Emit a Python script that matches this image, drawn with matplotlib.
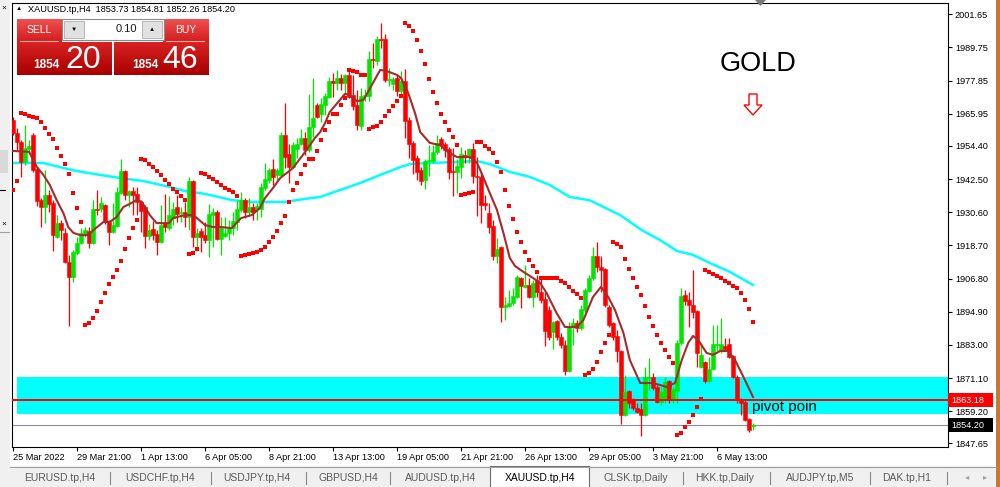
import numpy as np
import matplotlib
matplotlib.use('Agg')
import matplotlib.pyplot as plt
from matplotlib.patches import Rectangle, Polygon
from matplotlib.lines import Line2D
from matplotlib.colors import LinearSegmentedColormap

plt.rcParams['font.family'] = ['Liberation Sans', 'DejaVu Sans']

# XAUUSD.tp H4 bars
opens = [1963.7, 1959.1, 1955.8, 1948.6, 1953.3, 1958.3, 1946.1, 1935.0, 1932.5, 1936.8,
         1933.9, 1921.7, 1926.7, 1923.2, 1912.7, 1907.4, 1916.0, 1919.6, 1922.4, 1923.9,
         1919.6, 1931.8, 1931.8, 1933.2, 1927.1, 1923.5, 1925.7, 1937.5, 1945.4, 1936.8,
         1938.2, 1937.2, 1934.3, 1932.5, 1922.1, 1924.6, 1922.8, 1919.9, 1926.7, 1924.9,
         1928.5, 1932.5, 1930.3, 1930.7, 1928.9, 1941.8, 1921.7, 1923.9, 1922.4, 1920.6,
         1929.6, 1930.7, 1921.0, 1922.1, 1923.2, 1924.9, 1927.1, 1931.4, 1935.0, 1930.7,
         1932.5, 1931.8, 1931.8, 1939.3, 1942.2, 1946.1, 1944.0, 1944.0, 1958.3, 1951.5,
         1946.8, 1953.3, 1955.1, 1957.3, 1953.0, 1961.2, 1969.1, 1965.9, 1969.1, 1972.0,
         1977.7, 1977.0, 1978.8, 1977.0, 1979.9, 1972.7, 1969.1, 1961.6, 1972.3, 1972.3,
         1985.6, 1984.9, 1992.8, 1992.8, 1978.1, 1976.6, 1978.8, 1974.1, 1977.7, 1963.7,
         1955.5, 1950.1, 1945.8, 1942.2, 1949.0, 1949.0, 1952.2, 1956.9, 1955.1, 1953.3,
         1945.4, 1945.1, 1946.8, 1951.2, 1950.4, 1953.3, 1943.6, 1943.3, 1933.9, 1930.3,
         1925.7, 1914.9, 1918.1, 1896.6, 1896.9, 1898.0, 1900.2, 1907.0, 1903.8, 1904.5,
         1900.2, 1906.3, 1902.0, 1899.5, 1895.5, 1887.6, 1891.6, 1885.8, 1882.9, 1873.6,
         1889.4, 1890.8, 1889.0, 1895.5, 1902.3, 1907.0, 1914.9, 1911.0, 1910.2, 1896.6,
         1890.8, 1886.2, 1880.8, 1857.8, 1866.4, 1863.2, 1860.3, 1860.0, 1857.8, 1871.1,
         1871.5, 1867.9, 1862.5, 1863.2, 1870.0, 1863.2, 1866.4, 1883.7, 1900.9, 1899.1,
         1897.3, 1895.2, 1875.0, 1876.8, 1870.0, 1874.3, 1882.9, 1880.8, 1882.6, 1883.3,
         1879.0, 1871.5, 1863.2, 1862.5, 1856.4, 1853.73]
highs = [1964.8, 1960.8, 1956.5, 1961.9, 1956.5, 1959.1, 1946.5, 1935.7, 1945.8, 1938.6,
         1935.0, 1929.6, 1927.8, 1925.0, 1915.3, 1917.0, 1921.7, 1925.0, 1925.3, 1925.3,
         1935.0, 1938.6, 1936.1, 1933.6, 1927.8, 1933.9, 1939.7, 1949.7, 1945.8, 1938.6,
         1939.7, 1939.7, 1935.0, 1933.2, 1926.4, 1927.5, 1924.2, 1933.2, 1937.2, 1936.4,
         1934.3, 1936.8, 1932.5, 1934.3, 1943.3, 1942.2, 1925.0, 1925.0, 1927.1, 1933.6,
         1932.1, 1931.4, 1928.9, 1928.9, 1927.8, 1930.7, 1935.0, 1937.9, 1935.7, 1935.7,
         1933.9, 1933.9, 1941.1, 1948.3, 1946.5, 1949.7, 1946.5, 1959.4, 1969.8, 1955.1,
         1955.8, 1957.3, 1960.5, 1959.4, 1973.1, 1978.8, 1969.8, 1971.6, 1973.4, 1979.2,
         1980.6, 1981.7, 1980.2, 1980.2, 1981.3, 1979.9, 1974.5, 1975.2, 1974.9, 1988.5,
         1991.4, 1993.9, 1998.5, 1994.6, 1982.4, 1979.2, 1979.9, 1981.3, 1982.0, 1964.8,
         1956.2, 1951.2, 1946.8, 1949.7, 1954.7, 1954.7, 1958.3, 1957.6, 1955.8, 1954.0,
         1953.7, 1949.7, 1954.0, 1953.0, 1953.7, 1955.5, 1950.4, 1945.1, 1936.8, 1933.9,
         1927.8, 1921.4, 1918.5, 1900.2, 1902.7, 1903.4, 1908.1, 1907.4, 1911.7, 1907.0,
         1906.3, 1908.1, 1907.4, 1902.0, 1897.0, 1891.6, 1891.9, 1887.2, 1884.7, 1891.2,
         1892.6, 1891.9, 1897.3, 1903.4, 1908.1, 1918.1, 1919.9, 1914.9, 1910.6, 1897.3,
         1891.2, 1888.3, 1881.2, 1872.2, 1866.8, 1863.9, 1862.1, 1862.1, 1875.0, 1878.3,
         1872.9, 1868.6, 1867.9, 1871.5, 1870.4, 1867.9, 1884.7, 1903.4, 1902.7, 1902.0,
         1909.9, 1895.5, 1883.7, 1877.2, 1878.6, 1890.1, 1890.1, 1892.6, 1885.5, 1885.5,
         1879.4, 1872.2, 1863.9, 1863.2, 1856.7, 1854.81]
lows = [1958.3, 1953.0, 1943.3, 1947.6, 1951.9, 1945.1, 1932.8, 1925.3, 1926.7, 1930.7,
        1916.7, 1921.4, 1920.6, 1912.4, 1889.8, 1905.6, 1915.3, 1919.2, 1921.7, 1917.8,
        1919.2, 1929.6, 1930.7, 1926.4, 1918.8, 1923.2, 1925.3, 1937.2, 1935.0, 1932.5,
        1929.6, 1929.6, 1923.5, 1917.8, 1920.6, 1920.6, 1915.3, 1919.6, 1923.5, 1924.2,
        1926.0, 1927.1, 1927.1, 1925.3, 1924.2, 1918.1, 1918.1, 1916.3, 1919.6, 1914.5,
        1918.1, 1920.6, 1915.3, 1921.7, 1920.6, 1922.4, 1924.2, 1930.7, 1928.5, 1929.6,
        1927.8, 1927.8, 1928.9, 1938.6, 1941.1, 1940.4, 1942.2, 1943.6, 1946.5, 1941.1,
        1946.5, 1950.1, 1954.7, 1951.2, 1952.2, 1957.6, 1964.4, 1963.0, 1965.5, 1971.6,
        1972.0, 1974.5, 1974.5, 1973.4, 1971.6, 1967.3, 1960.1, 1960.1, 1970.5, 1970.5,
        1982.4, 1983.5, 1989.6, 1977.4, 1975.9, 1974.5, 1972.3, 1972.7, 1957.3, 1950.1,
        1944.3, 1942.2, 1940.4, 1938.9, 1943.6, 1948.3, 1951.5, 1953.3, 1950.4, 1942.5,
        1936.4, 1937.5, 1942.9, 1948.3, 1948.3, 1941.1, 1929.3, 1926.7, 1931.4, 1923.2,
        1913.5, 1912.4, 1891.2, 1891.9, 1896.6, 1897.3, 1899.8, 1896.2, 1903.4, 1899.8,
        1896.6, 1900.2, 1898.0, 1882.6, 1884.7, 1881.5, 1884.7, 1881.9, 1872.2, 1873.3,
        1882.9, 1887.6, 1888.3, 1894.4, 1902.0, 1906.3, 1909.2, 1902.0, 1896.6, 1889.4,
        1884.7, 1876.8, 1854.6, 1857.5, 1860.3, 1859.6, 1858.5, 1850.3, 1857.5, 1866.8,
        1866.8, 1862.1, 1861.4, 1862.1, 1862.1, 1862.1, 1862.1, 1882.9, 1897.3, 1889.4,
        1892.6, 1875.0, 1874.7, 1869.3, 1869.7, 1874.0, 1880.8, 1880.1, 1881.2, 1878.3,
        1871.1, 1862.1, 1857.8, 1855.7, 1851.7, 1852.26]
closes = [1959.1, 1955.8, 1948.6, 1953.7, 1954.4, 1945.8, 1934.6, 1932.5, 1936.8, 1933.6,
          1922.4, 1926.7, 1924.2, 1912.7, 1907.4, 1916.3, 1919.6, 1923.2, 1924.2, 1919.6,
          1931.8, 1931.4, 1933.9, 1927.1, 1923.5, 1926.0, 1937.9, 1945.4, 1936.8, 1938.2,
          1936.8, 1934.3, 1931.0, 1922.1, 1924.2, 1922.4, 1919.9, 1926.0, 1925.3, 1929.6,
          1931.8, 1930.0, 1930.7, 1928.9, 1941.8, 1921.7, 1923.2, 1921.7, 1920.6, 1930.0,
          1930.7, 1921.0, 1925.0, 1923.2, 1925.0, 1927.5, 1931.8, 1935.0, 1930.7, 1932.5,
          1930.7, 1932.8, 1939.7, 1942.5, 1945.8, 1943.3, 1945.8, 1958.3, 1950.4, 1946.8,
          1954.7, 1955.1, 1957.3, 1953.0, 1961.2, 1964.4, 1964.8, 1969.5, 1972.3, 1977.7,
          1977.0, 1978.8, 1977.0, 1979.9, 1972.0, 1968.8, 1961.9, 1972.3, 1972.7, 1985.6,
          1985.3, 1992.8, 1992.4, 1978.1, 1978.4, 1978.4, 1974.1, 1977.7, 1963.4, 1955.1,
          1949.4, 1945.1, 1941.8, 1949.0, 1949.4, 1952.2, 1955.5, 1954.7, 1953.0, 1945.1,
          1945.1, 1947.2, 1951.5, 1950.4, 1953.3, 1943.6, 1943.3, 1933.2, 1933.2, 1925.3,
          1914.9, 1917.4, 1896.6, 1897.3, 1898.0, 1900.5, 1907.4, 1904.1, 1904.5, 1900.2,
          1905.2, 1902.0, 1899.1, 1888.0, 1885.8, 1891.2, 1885.8, 1882.9, 1873.6, 1889.4,
          1890.8, 1889.0, 1895.9, 1902.7, 1907.0, 1914.9, 1911.0, 1909.9, 1897.3, 1890.1,
          1885.8, 1880.8, 1857.8, 1866.1, 1862.1, 1860.3, 1858.9, 1857.8, 1871.5, 1871.5,
          1867.5, 1862.5, 1866.1, 1869.7, 1863.2, 1867.2, 1883.7, 1900.5, 1898.7, 1897.3,
          1894.8, 1880.1, 1879.4, 1870.0, 1874.3, 1883.3, 1883.3, 1883.3, 1881.5, 1878.6,
          1871.5, 1863.6, 1862.1, 1856.0, 1852.4, 1854.20]

# parabolic SAR dots, one per bar
sar = [1938.6, 1941.8, 1966.2, 1965.9, 1965.2, 1964.8, 1964.4, 1963.0, 1960.8, 1958.7,
       1956.9, 1953.7, 1950.8, 1947.9, 1944.3, 1937.5, 1932.1, 1927.1, 1890.1, 1890.8,
       1892.6, 1895.2, 1898.4, 1901.6, 1904.8, 1907.4, 1909.9, 1913.1, 1917.4, 1921.4,
       1925.0, 1927.8, 1949.7, 1949.4, 1947.9, 1946.9, 1945.4, 1944.0, 1942.2, 1940.7,
       1939.0, 1937.9, 1936.4, 1935.0, 1915.6, 1916.0, 1917.4, 1944.7, 1944.3, 1943.3,
       1942.5, 1941.5, 1940.4, 1939.3, 1938.6, 1937.9, 1936.4, 1914.9, 1915.3, 1915.6,
       1916.0, 1916.3, 1917.1, 1918.1, 1919.9, 1921.7, 1923.9, 1926.7, 1929.3, 1934.3,
       1938.6, 1941.1, 1944.3, 1947.6, 1949.7, 1949.7, 1952.6, 1956.5, 1960.1, 1963.0,
       1965.9, 1965.9, 1969.1, 1971.6, 1981.7, 1981.3, 1981.0, 1979.9, 1979.9, 1960.5,
       1961.2, 1961.6, 1963.0, 1965.2, 1967.0, 1968.8, 1970.5, 1972.3, 1998.5, 1997.5,
       1995.7, 1992.4, 1988.5, 1983.8, 1978.4, 1973.8, 1969.8, 1965.9, 1963.0, 1960.1,
       1957.6, 1954.7, 1936.8, 1937.2, 1937.5, 1937.9, 1955.8, 1955.8, 1954.4, 1953.3,
       1951.9, 1948.6, 1945.1, 1938.6, 1932.8, 1928.2, 1923.5, 1919.9, 1916.3, 1913.5,
       1911.3, 1909.2, 1907.0, 1907.0, 1907.0, 1907.0, 1907.0, 1905.9, 1905.2, 1903.8,
       1902.3, 1901.3, 1899.8, 1872.2, 1872.9, 1874.3, 1876.8, 1880.4, 1883.7, 1886.5,
       1919.9, 1919.2, 1918.1, 1913.8, 1910.2, 1907.0, 1903.8, 1900.9, 1896.9, 1893.0,
       1889.8, 1886.5, 1883.7, 1881.2, 1878.6, 1876.5, 1850.6, 1851.4, 1853.5, 1855.3,
       1857.8, 1860.7, 1863.6, 1909.9, 1909.2, 1908.4, 1907.7, 1907.0, 1905.9, 1905.2,
       1904.1, 1903.4, 1901.6, 1899.1, 1895.9, 1891.2]

# fast moving average (brown), sampled along the bars
ma_fast_x = [0, 4, 6, 7.6, 9.2, 10.9, 12.6, 13.8, 15.1, 16.8,
             18.8, 20.1, 22.6, 24.2, 25.9, 27.6, 29.2, 30.9, 32.2, 34.2,
             35.9, 39, 40, 43, 45, 46, 48, 50, 52, 54.7,
             57, 59.7, 61.7, 63, 65, 66.8, 68.8, 70, 73, 75.5,
             76.8, 78, 79.2, 83, 84, 86, 87.6, 89.7, 91.8, 93.4,
             96, 97, 98.8, 100.5, 101.8, 104.2, 106.8, 108.8, 111, 114.2,
             116, 116.8, 119.2, 121, 122.6, 124.2, 125.5, 127.6, 130, 131.8,
             133.4, 135.9, 138, 140.9, 142.6, 145, 147, 148.8, 150.5, 152.6,
             154.2, 156.8, 160, 163.4, 165.5, 167.2, 168.8, 170, 171.3, 173.4,
             175, 176.8, 178.8, 180.5, 182.6, 185]
ma_fast = [1952.6, 1952.3, 1946.8, 1944.0, 1940.4, 1935.0, 1930.3, 1925.3, 1923.2, 1922.4,
           1922.4, 1924.2, 1927.1, 1927.1, 1928.9, 1932.5, 1933.6, 1935.0, 1934.3, 1929.6,
           1926.7, 1926.7, 1928.5, 1929.6, 1929.6, 1928.5, 1926.0, 1925.3, 1925.3, 1924.9,
           1928.5, 1929.6, 1932.1, 1935.7, 1939.3, 1942.9, 1945.1, 1946.5, 1952.2, 1957.3,
           1959.4, 1962.6, 1966.6, 1973.1, 1972.7, 1970.5, 1970.9, 1976.3, 1981.7, 1981.3,
           1979.9, 1978.8, 1973.4, 1966.2, 1959.4, 1955.5, 1954.7, 1952.2, 1950.4, 1950.4,
           1948.3, 1945.8, 1937.5, 1931.4, 1923.2, 1914.2, 1911.3, 1909.2, 1907.0, 1905.2,
           1901.6, 1894.4, 1889.4, 1889.4, 1891.9, 1900.2, 1903.8, 1900.2, 1895.5, 1887.3,
           1877.6, 1869.3, 1869.3, 1867.9, 1869.3, 1877.6, 1883.7, 1886.2, 1884.7, 1880.1,
           1879.4, 1880.8, 1880.8, 1877.6, 1871.5, 1864.3]

# slow moving average (aqua)
ma_slow_x = [0, 7.6, 11.8, 15.9, 21.8, 26.8, 32.6, 39.2, 43, 48,
             54.7, 59.7, 68, 73, 76.8, 81.8, 86.8, 91.8, 96.8, 99.2,
             104.2, 110, 116, 119.2, 124.2, 129.2, 134.2, 139.2, 144.2, 149.2,
             151.8, 157.2, 161.8, 166, 170, 174.2, 179.2, 185]
ma_slow = [1948.3, 1948.3, 1946.8, 1945.4, 1944.0, 1942.9, 1941.8, 1939.7, 1938.2, 1937.2,
           1935.0, 1934.3, 1934.3, 1935.4, 1936.1, 1938.6, 1941.1, 1944.0, 1946.8, 1947.9,
           1948.3, 1948.6, 1949.0, 1947.9, 1945.1, 1943.3, 1940.4, 1936.1, 1934.9, 1931.4,
           1929.6, 1924.2, 1920.6, 1916.7, 1915.3, 1912.4, 1909.2, 1904.5]

date_labels = ['25 Mar 2022', '29 Mar 21:00', '1 Apr 13:00', '6 Apr 05:00', '8 Apr 21:00',
               '13 Apr 13:00', '19 Apr 05:00', '21 Apr 21:00', '26 Apr 13:00', '29 Apr 05:00',
               '3 May 21:00', '6 May 13:00']
date_step = 16
price_ticks = [2001.65, 1989.75, 1977.85, 1965.95, 1954.40, 1942.50, 1930.60, 1918.70,
               1906.80, 1894.90, 1883.00, 1871.10, 1859.20, 1847.65]
pivot = 1863.18
bid = 1854.20
ask = 1854.46
zone_top, zone_bottom, zone_start = 1871.5, 1858.3, 1.0
tabs = ['EURUSD.tp,H4', 'USDCHF.tp,H4', 'USDJPY.tp,H4', 'GBPUSD,H4', 'AUDUSD.tp,H4',
        'XAUUSD.tp,H4', 'CLSK.tp,Daily', 'HKK.tp,Daily', 'AUDJPY.tp,M5', 'DAK.tp,H1']
active_tab = 'XAUUSD.tp,H4'

W, H = 1000, 487


def fx(x):
    return x / W


def fy(y):
    return 1 - y / H


fig = plt.figure(figsize=(W / 100, H / 100), dpi=100)
fig.patch.set_facecolor('white')
ax = fig.add_axes([fx(12), fy(447), (948 - 12) / W, (447 - 3) / H])

o = np.array(opens)
c = np.array(closes)
x = np.arange(len(o))
cols = np.where(c >= o, '#00e600', '#ff0000')
xl = (-0.25, 233.75)

# zone + levels
ax.fill_between([zone_start, xl[1]], zone_bottom, zone_top, color='#00ffff', lw=0, zorder=1)
ax.axhline(bid, color='#8c8c9c', lw=0.8, zorder=2)
ax.plot(ma_slow_x, ma_slow, color='#00ffff', lw=1.8, zorder=2)

# candles
ax.vlines(x, lows, highs, colors=cols, lw=0.9, zorder=3)
ax.bar(x, np.abs(c - o), bottom=np.minimum(o, c), width=0.8, color=cols,
       edgecolor=cols, lw=0.4, zorder=4)

ax.plot(ma_fast_x, ma_fast, color='#a52a2a', lw=1.5, zorder=5)
ax.scatter(x, sar, marker='s', s=9, color='#ff0000', linewidths=0, zorder=5)
ax.axhline(pivot, color='#ff0000', lw=1.4, zorder=6)
ax.text(184.75, 1860.6, 'pivot poin', fontsize=11, va='center', ha='left', zorder=7)

ax.set_xlim(*xl)
ax.set_ylim(1846.33, 2005.72)
ax.yaxis.tick_right()
ax.set_yticks(price_ticks)
ax.set_yticklabels([f'{v:.2f}' for v in price_ticks])
ax.tick_params(axis='y', length=3, width=0.8, labelsize=6.6, pad=2)
ax.set_xticks(x[::date_step][:len(date_labels)])
ax.set_xticklabels(date_labels, ha='left')
ax.tick_params(axis='x', length=3, width=0.8, labelsize=6.6, pad=1.5)
for s in ax.spines.values():
    s.set_color('black')
    s.set_linewidth(0.8)

# price boxes on the right scale
for val, fc in [(pivot, '#ff0000'), (bid, '#000000')]:
    py = ax.transData.transform((0, val))[1] / fig.dpi / fig.get_size_inches()[1]
    fig.add_artist(Rectangle((fx(948), py - 7 / H), 45 / W, 14 / H, transform=fig.transFigure,
                             fc=fc, ec='none', zorder=10))
    fig.text(fx(951), py, f'{val:.2f}', fontsize=6.6, color='white', va='center', zorder=11)

# header line
fig.text(fx(16), fy(9), '▲', fontsize=4.5, va='center')
fig.text(fx(28), fy(9), f'XAUUSD.tp,H4  {opens[-1]:.2f} {highs[-1]:.2f} {lows[-1]:.2f} {closes[-1]:.2f}',
         fontsize=6.6, va='center')


# one click trading panel
def grad_box(x0, y0, x1, y1, top, bottom):
    a = fig.add_axes([fx(x0), fy(y1), (x1 - x0) / W, (y1 - y0) / H], zorder=20)
    a.axis('off')
    cmap = LinearSegmentedColormap.from_list('g', [top, bottom])
    a.imshow(np.linspace(0, 1, 32)[:, None], aspect='auto', cmap=cmap, extent=(0, 1, 0, 1))
    return a


grad_box(17, 19, 62, 42, '#f05050', '#d41c1c')
grad_box(163, 19, 208, 42, '#f05050', '#d41c1c')
grad_box(17, 42, 112, 75, '#d82222', '#a80000')
grad_box(114, 42, 208, 75, '#d82222', '#a80000')
fig.add_artist(Rectangle((fx(62), fy(40)), 102 / W, 21 / H, transform=fig.transFigure,
                         fc='white', ec='#8a8a8a', lw=0.8, zorder=21))
for bx, glyph in [(64, '▼'), (142, '▲')]:
    fig.add_artist(Rectangle((fx(bx), fy(38)), 20 / W, 17 / H, transform=fig.transFigure,
                             fc='#e1e1e1', ec='#adadad', lw=0.6, zorder=22))
    fig.text(fx(bx + 10), fy(29.5), glyph, fontsize=4.5, ha='center', va='center', zorder=30)
fig.text(fx(137), fy(29.5), '0.10', fontsize=8, ha='right', va='center', color='#1a1a1a', zorder=30)
for bx0, bx1, lab in [(17, 62, 'SELL'), (163, 208, 'BUY')]:
    fig.text(fx((bx0 + bx1) / 2), fy(30), lab, fontsize=7.5, color='white',
             ha='center', va='center', zorder=30)
    fig.add_artist(Line2D([fx(bx0 + 3), fx(bx1 - 4)], [fy(41), fy(41)], color='#f5a8a8',
                          lw=0.8, zorder=30))
for x_small, x_big, price in [(33, 65, bid), (132, 162, ask)]:
    big, small = f'{price:.2f}'.split('.')
    fig.text(fx(x_small), fy(68), big, fontsize=8.5, fontweight='bold', color='white',
             va='baseline', zorder=30)
    fig.text(fx(x_big), fy(68), small, fontsize=23, color='white', va='baseline', zorder=30)

# GOLD note and arrow
fig.text(fx(720), fy(64), 'GOLD', fontsize=19.5, va='center', ha='left')
arrow = [(749, 94), (757, 94), (757, 105), (762, 105), (753, 115), (744, 105), (749, 105)]
fig.add_artist(Polygon([(fx(a), fy(b)) for a, b in arrow], closed=True, fc='white',
                       ec='#ff0000', lw=1.0, transform=fig.transFigure))
fig.add_artist(Polygon([(fx(755), fy(0)), (fx(766), fy(0)), (fx(760.5), fy(6))], closed=True,
                       fc='#7a7a7a', ec='none', transform=fig.transFigure))

# window chrome: left strip, right edge, tab bar
fig.add_artist(Rectangle((0, fy(466)), fx(10), 466 / H, transform=fig.transFigure,
                         fc='#f0f0f0', ec='none'))
fig.add_artist(Rectangle((0, fy(173)), fx(8), 23 / H, transform=fig.transFigure,
                         fc='#d9d9d9', ec='none'))
fig.add_artist(Line2D([0, fx(5)], [fy(190), fy(190)], color='black', lw=0.8))
fig.add_artist(Line2D([0, fx(9)], [fy(232), fy(232)], color='#a0a0a0', lw=0.8))
fig.text(fx(1), fy(8), '×', fontsize=6, va='center')
fig.text(fx(1), fy(224), '×', fontsize=6, va='center')
fig.add_artist(Rectangle((fx(996), 0), fx(4), 1, transform=fig.transFigure,
                         fc='#c47a35', ec='none'))

fig.add_artist(Rectangle((0, 0), fx(996), 21 / H, transform=fig.transFigure,
                         fc='#f0f0f0', ec='none'))
fig.add_artist(Line2D([fx(10), fx(996)], [fy(466.5), fy(466.5)], color='#a0a0a0', lw=0.8))
fig.add_artist(Rectangle((fx(490), 0), 99 / W, 21 / H, transform=fig.transFigure,
                         fc='white', ec='#6e6e6e', lw=0.8))
tab_x = [60, 160, 257, 348, 441, 540, 636, 725, 820, 907]
for tx, name in zip(tab_x, tabs):
    fig.text(fx(tx), fy(478), name, fontsize=7.5, ha='center', va='center',
             color='black' if name == active_tab else '#5a5a5a')
for sx in [110, 211, 306, 390, 683, 770, 870, 947]:
    fig.add_artist(Line2D([fx(sx), fx(sx)], [fy(472), fy(484)], color='#8a8a8a', lw=0.8))
fig.text(fx(967), fy(478), '◂', fontsize=6, ha='center', va='center', color='#a0a0a0')
fig.text(fx(985), fy(478), '▸', fontsize=6, ha='center', va='center', color='#a0a0a0')

fig.savefig('out.png', dpi=100)
